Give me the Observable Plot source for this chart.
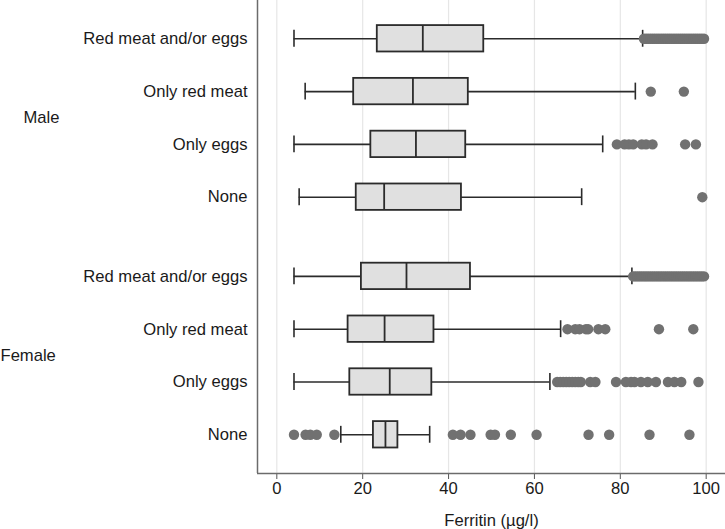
<!DOCTYPE html>
<html>
<head>
<meta charset="utf-8">
<script src="https://cdn.jsdelivr.net/npm/d3@7"></script>
<script src="https://cdn.jsdelivr.net/npm/@observablehq/plot@0.6"></script>
<style>
  html, body { margin: 0; padding: 0; background: #fff; }
  #chart { width: 725px; height: 529px; }
</style>
</head>
<body>
<div id="chart"></div>
<script>
// ---- data ----
const groups = ["Male", "Female"];
const diets = ["Red meat and/or eggs", "Only red meat", "Only eggs", "None"];

// rows: Male (4 diets), then Female (4 diets)
const lowWhisker  = [4.0, 6.6, 4.0, 5.2,   4.0, 4.0, 4.0, 14.9];
const q1          = [23.4, 17.9, 21.9, 18.5, 19.7, 16.6, 17.0, 22.5];
const median      = [34.0, 31.7, 32.4, 25.0, 30.2, 25.1, 26.3, 25.3];
const q3          = [48.2, 44.6, 44.0, 43.0, 45.1, 36.6, 36.1, 28.2];
const highWhisker = [85.2, 83.5, 75.9, 71.0, 82.7, 66.1, 63.6, 35.6];

const outliers = [
  [85.5, 86, 86.5, 87, 87.5, 88, 88.5, 89, 89.5, 90, 90.5, 91, 91.5, 92, 92.5, 93, 93.5, 94, 94.5, 95, 95.5, 96, 96.5, 97, 97.5, 98, 98.5, 99, 99.5],
  [87.1, 94.8],
  [79.2, 81.0, 82.0, 83.0, 85.0, 86.0, 87.5, 95.1, 97.6],
  [99.1],
  [83.0, 83.5, 84, 84.5, 85, 85.5, 86, 86.5, 87, 87.5, 88, 88.5, 89, 89.5, 90, 90.5, 91, 91.5, 92, 92.5, 93, 93.5, 94, 94.5, 95, 95.5, 96, 96.5, 97, 97.5, 98, 98.5, 99, 99.5],
  [67.7, 69.5, 70.5, 72.0, 72.5, 74.9, 76.5, 89.0, 97.0],
  [65.3, 66.0, 66.7, 67.4, 68.1, 68.8, 69.5, 70.2, 70.8, 73.0, 74.2, 79.0, 81.3, 82.5, 83.3, 84.8, 86.4, 88.3, 91.1, 92.6, 94.2, 98.2],
  [4.0, 6.7, 7.8, 9.3, 13.4, 41.0, 42.8, 45.1, 49.8, 50.8, 54.5, 60.5, 72.6, 77.4, 86.8, 96.1]
];

const xTicks = [0, 20, 40, 60, 80, 100];
const xLabel = "Ferritin (µg/l)";

// ---- build table ----
const groupGap = 0.5;
const rows = [];
groups.forEach((g, gi) => {
  diets.forEach((d, di) => {
    const i = gi * diets.length + di;
    rows.push({
      group: g, diet: d,
      pos: gi * (diets.length + groupGap) + di,
      lo: lowWhisker[i], q1: q1[i], med: median[i], q3: q3[i], hi: highWhisker[i]
    });
  });
});
const outlierPts = rows.flatMap((r, i) => outliers[i].map(v => ({pos: r.pos, value: v})));
const groupLabels = groups.map(g => {
  const rs = rows.filter(r => r.group === g);
  return {group: g, pos: d3.mean(rs, r => r.pos)};
});

const xDomain = [-4.5, 104.5];
const yDomain = [8.233, -0.725];
const boxHalf = 0.25;
const capHalf = 0.16;
const fs = 16.6;

const boxStroke = "#2b2b2b";
const plot = Plot.plot({
  width: 725,
  height: 529,
  marginLeft: 257,
  marginRight: 0,
  marginTop: 0,
  marginBottom: 56,
  style: {fontFamily: "'Liberation Sans', Arial, sans-serif", fontSize: fs + "px", color: "#1a1a1a", background: "#fff"},
  x: {domain: xDomain},
  y: {domain: yDomain, axis: null},
  marks: [
    Plot.ruleX(xTicks, {stroke: "#e6e6e6", strokeWidth: 1.2}),
    Plot.axisX({ticks: xTicks, tickSize: 6, tickPadding: 3, stroke: "#555", label: xLabel, labelAnchor: "center", labelArrow: "none", labelOffset: 52, fontSize: fs}),
    Plot.ruleX([xDomain[0]], {stroke: "#6b6b6b", strokeWidth: 1.5}),
    Plot.ruleY([yDomain[0]], {stroke: "#6b6b6b", strokeWidth: 1.5}),
    // whiskers
    Plot.ruleY(rows, {y: "pos", x1: "lo", x2: "q1", stroke: boxStroke, strokeWidth: 1.6}),
    Plot.ruleY(rows, {y: "pos", x1: "q3", x2: "hi", stroke: boxStroke, strokeWidth: 1.6}),
    Plot.ruleX(rows, {x: "lo", y1: d => d.pos - capHalf, y2: d => d.pos + capHalf, stroke: boxStroke, strokeWidth: 1.6}),
    Plot.ruleX(rows, {x: "hi", y1: d => d.pos - capHalf, y2: d => d.pos + capHalf, stroke: boxStroke, strokeWidth: 1.6}),
    // boxes
    Plot.rect(rows, {x1: "q1", x2: "q3", y1: d => d.pos - boxHalf, y2: d => d.pos + boxHalf, fill: "#e0e0e0", stroke: boxStroke, strokeWidth: 1.8}),
    Plot.ruleX(rows, {x: "med", y1: d => d.pos - boxHalf, y2: d => d.pos + boxHalf, stroke: boxStroke, strokeWidth: 1.8}),
    // outliers
    Plot.dot(outlierPts, {x: "value", y: "pos", r: 5.2, fill: "#717171", stroke: "none"}),
    // row labels
    Plot.text(rows, {y: "pos", text: "diet", frameAnchor: "left", textAnchor: "end", dx: -10, fontSize: fs, fill: "#1a1a1a"}),
    // group labels
    Plot.text(groupLabels.filter(d => d.group === "Male"), {y: "pos", text: "group", frameAnchor: "left", textAnchor: "start", dx: -234, fontSize: fs, fill: "#1a1a1a"}),
    Plot.text(groupLabels.filter(d => d.group === "Female"), {y: "pos", text: "group", frameAnchor: "left", textAnchor: "start", dx: -257, fontSize: fs, fill: "#1a1a1a"})
  ]
});
document.getElementById("chart").appendChild(plot);
</script>
</body>
</html>
